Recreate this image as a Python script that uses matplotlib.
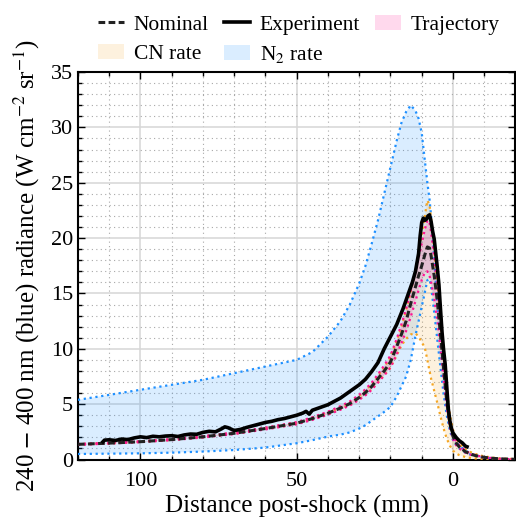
import numpy as np
import matplotlib
matplotlib.use('Agg')
import matplotlib.pyplot as plt
from matplotlib.ticker import MultipleLocator

plt.rcParams['font.family'] = ['Liberation Serif', 'DejaVu Serif']
plt.rcParams['mathtext.fontset'] = 'stix'

# common distance grid for the nominal curve and the uncertainty bands (mm)
xs = [120, 110, 100, 90, 80, 70, 60, 50, 45, 40, 36, 33, 30, 28, 26, 24, 22, 20, 18, 16.5,
      15, 13.5, 12, 11, 10, 9, 8.2, 7.5, 7, 6, 5, 4, 3, 2, 1, 0, -1, -2, -4, -6,
      -8, -10, -13, -16, -20]

nominal = [1.37, 1.48, 1.61, 1.80, 2.05, 2.37, 2.80, 3.28, 3.70, 4.18, 4.65, 5.05, 5.60, 6.05, 6.60, 7.30, 8.00, 8.80, 10.2, 11.3,
           12.5, 14.1, 15.6, 16.6, 17.5, 18.5, 19.2, 19.1, 18.4, 16.6, 14.3, 11.3, 8.2, 5.3, 3.3, 2.1, 1.5, 1.15, 0.7, 0.45,
           0.3, 0.2, 0.1, 0.05, 0.02]

traj_hi = [1.40, 1.52, 1.65, 1.85, 2.11, 2.44, 2.88, 3.38, 3.82, 4.32, 4.82, 5.25, 5.85, 6.35, 6.95, 7.7, 8.5, 9.4, 10.9, 12.2,
           13.6, 15.3, 17.0, 18.2, 19.5, 20.8, 21.6, 21.4, 20.5, 18.3, 15.6, 12.4, 9.0, 5.9, 3.7, 2.35, 1.7, 1.3, 0.78, 0.5,
           0.33, 0.22, 0.11, 0.055, 0.022]
traj_lo = [1.33, 1.44, 1.57, 1.75, 1.99, 2.30, 2.72, 3.18, 3.58, 4.05, 4.5, 4.88, 5.4, 5.8, 6.3, 6.95, 7.6, 8.3, 9.5, 10.5,
           11.6, 12.9, 14.3, 15.3, 16.2, 16.9, 17.0, 16.6, 16.0, 14.5, 12.6, 10.0, 7.2, 4.7, 2.9, 1.85, 1.3, 1.0, 0.62, 0.4,
           0.27, 0.18, 0.09, 0.045, 0.018]

cn_hi = [1.39, 1.50, 1.63, 1.83, 2.08, 2.41, 2.85, 3.34, 3.77, 4.27, 4.76, 5.18, 5.76, 6.25, 6.82, 7.55, 8.35, 9.25, 10.7, 12.0,
         13.5, 15.2, 17.0, 18.6, 20.2, 22.0, 23.4, 23.0, 21.8, 19.0, 15.9, 12.6, 9.3, 6.3, 4.1, 2.7, 1.9, 1.45, 0.92, 0.62,
         0.42, 0.29, 0.16, 0.09, 0.045]
cn_lo = [1.35, 1.46, 1.59, 1.77, 2.02, 2.33, 2.75, 3.22, 3.63, 4.1, 4.55, 4.93, 5.45, 5.85, 6.35, 6.95, 7.6, 8.3, 9.4, 10.3,
         10.9, 11.3, 11.4, 11.1, 10.6, 10.1, 9.0, 8.0, 7.3, 6.2, 5.1, 3.9, 2.8, 1.9, 1.25, 0.8, 0.55, 0.4, 0.22, 0.13,
         0.08, 0.05, 0.03, 0.015, 0.008]

n2_hi = [5.39, 5.84, 6.3, 6.75, 7.2, 7.8, 8.4, 9.0, 9.7, 11.1, 12.5, 14.0, 15.9, 17.5, 19.5, 21.6, 24.0, 26.4, 28.8, 30.4,
         31.4, 32.0, 31.5, 30.8, 29.5, 27.0, 25.0, 23.5, 22.0, 18.0, 14.0, 10.5, 7.5, 5.0, 3.3, 2.2, 1.6, 1.25, 0.8, 0.5,
         0.32, 0.2, 0.1, 0.05, 0.02]
n2_lo = [0.50, 0.53, 0.56, 0.62, 0.72, 0.86, 1.08, 1.47, 1.75, 2.07, 2.25, 2.45, 2.8, 3.1, 3.5, 3.9, 4.3, 4.75, 5.7, 6.6,
         7.5, 9.0, 11.2, 12.5, 13.8, 15.1, 16.2, 16.3, 15.6, 13.3, 10.8, 8.3, 5.9, 4.0, 2.6, 1.75, 1.3, 1.0, 0.62, 0.4,
         0.26, 0.17, 0.08, 0.04, 0.015]

# measured trace
exp_x = [112, 111.5, 110, 108, 106, 104, 102, 100, 98, 96, 94, 92, 90, 88, 86, 84, 82, 80, 78, 76,
         74, 73, 72, 71, 70, 68, 66, 64, 62, 60, 58, 56, 54, 52, 50, 48, 47, 46, 45, 44,
         42, 40, 38, 36, 34, 32, 30, 28, 26, 24, 22, 20, 18, 16, 14.5, 13, 12, 11, 10.5, 10,
         9.5, 9, 8.5, 8, 7.5, 7, 6.5, 6, 5.5, 5, 4.5, 4, 3.5, 3, 2.5, 2, 1.5, 1, 0.5, 0,
         -1, -2, -3, -3.5, -4, -4.5]
exp_y = [1.6, 1.75, 1.78, 1.72, 1.85, 1.80, 1.95, 2.05, 1.98, 2.10, 2.05, 2.12, 2.15, 2.08, 2.22, 2.30, 2.28, 2.45, 2.55, 2.50,
         2.78, 2.95, 2.88, 2.75, 2.62, 2.72, 2.90, 3.05, 3.20, 3.35, 3.45, 3.60, 3.70, 3.85, 4.00, 4.20, 4.35, 4.10, 4.45, 4.55,
         4.75, 4.95, 5.25, 5.55, 5.95, 6.35, 6.75, 7.25, 7.95, 8.75, 10.0, 11.1, 12.2, 13.6, 14.8, 16.0, 17.0, 18.6, 20.2, 21.4,
         21.8, 21.6, 21.7, 22.0, 22.1, 21.5, 20.6, 19.9, 18.6, 17.3, 15.8, 13.6, 11.5, 9.9, 8.6, 6.6, 4.6, 3.5, 2.8, 2.4,
         2.0, 1.7, 1.5, 1.35, 1.2, 1.15]

blue = '#1e90ff'
orange = '#f5a623'
pink = '#ff1493'


def band(ax, lo, hi, color, alpha, label):
    px = np.r_[xs, xs[::-1]]
    py = np.r_[hi, lo[::-1]]
    h = ax.fill(px, py, color=color, alpha=alpha, lw=0, label=label, zorder=2)[0]
    ax.plot(xs, hi, ls=':', color=color, lw=1.6, zorder=3)
    ax.plot(xs, lo, ls=':', color=color, lw=1.6, zorder=3)
    return h


fig = plt.figure(figsize=(5.16, 5.2), dpi=100)
ax = fig.add_axes([0.151, 0.1163, 0.848, 0.7452])

h_n2 = band(ax, n2_lo, n2_hi, blue, 0.16, 'N$_2$ rate')
h_cn = band(ax, cn_lo, cn_hi, orange, 0.15, 'CN rate')
h_tr = band(ax, traj_lo, traj_hi, pink, 0.16, 'Trajectory')

h_nom, = ax.plot(xs, nominal, color='#222222', lw=2.2, dashes=(2.2, 1.1), label='Nominal', zorder=4)
h_exp, = ax.plot(exp_x, exp_y, color='black', lw=2.6, label='Experiment', zorder=5)

ax.set_xlim(120, -20)
ax.set_ylim(0, 35)
ax.xaxis.set_major_locator(MultipleLocator(50))
ax.xaxis.set_minor_locator(MultipleLocator(10))
ax.yaxis.set_major_locator(MultipleLocator(5))
ax.yaxis.set_minor_locator(MultipleLocator(1))
ax.grid(which='major', color='#d6d6d6', lw=1.1, ls='-', zorder=0)
ax.grid(which='minor', color='#a8a8a8', lw=0.8, ls=(0, (1, 3)), zorder=0)
ax.set_axisbelow(True)
ax.tick_params(which='both', direction='in', top=True, right=True, labelsize=16, width=1)
ax.tick_params(which='major', length=5)
ax.tick_params(which='minor', length=3)
ax.tick_params(axis='x', which='major', pad=9)
for s in ax.spines.values():
    s.set_linewidth(1.5)

ax.set_xlabel('Distance post-shock (mm)', fontsize=18, labelpad=3)
ax.set_ylabel('240 $-$ 400 nm (blue) radiance (W cm$^{-2}$ sr$^{-1}$)', fontsize=18, labelpad=6)

handles = [h_nom, h_cn, h_exp, h_n2, h_tr]
ax.legend(handles=handles, labels=[h.get_label() for h in handles], ncol=3, frameon=False,
          loc='lower center', bbox_to_anchor=(0.505, 0.995), fontsize=15.5, handlelength=1.2,
          handletextpad=0.45, columnspacing=0.7, labelspacing=0.45, borderaxespad=0.0)

fig.savefig('out.png', dpi=100)
